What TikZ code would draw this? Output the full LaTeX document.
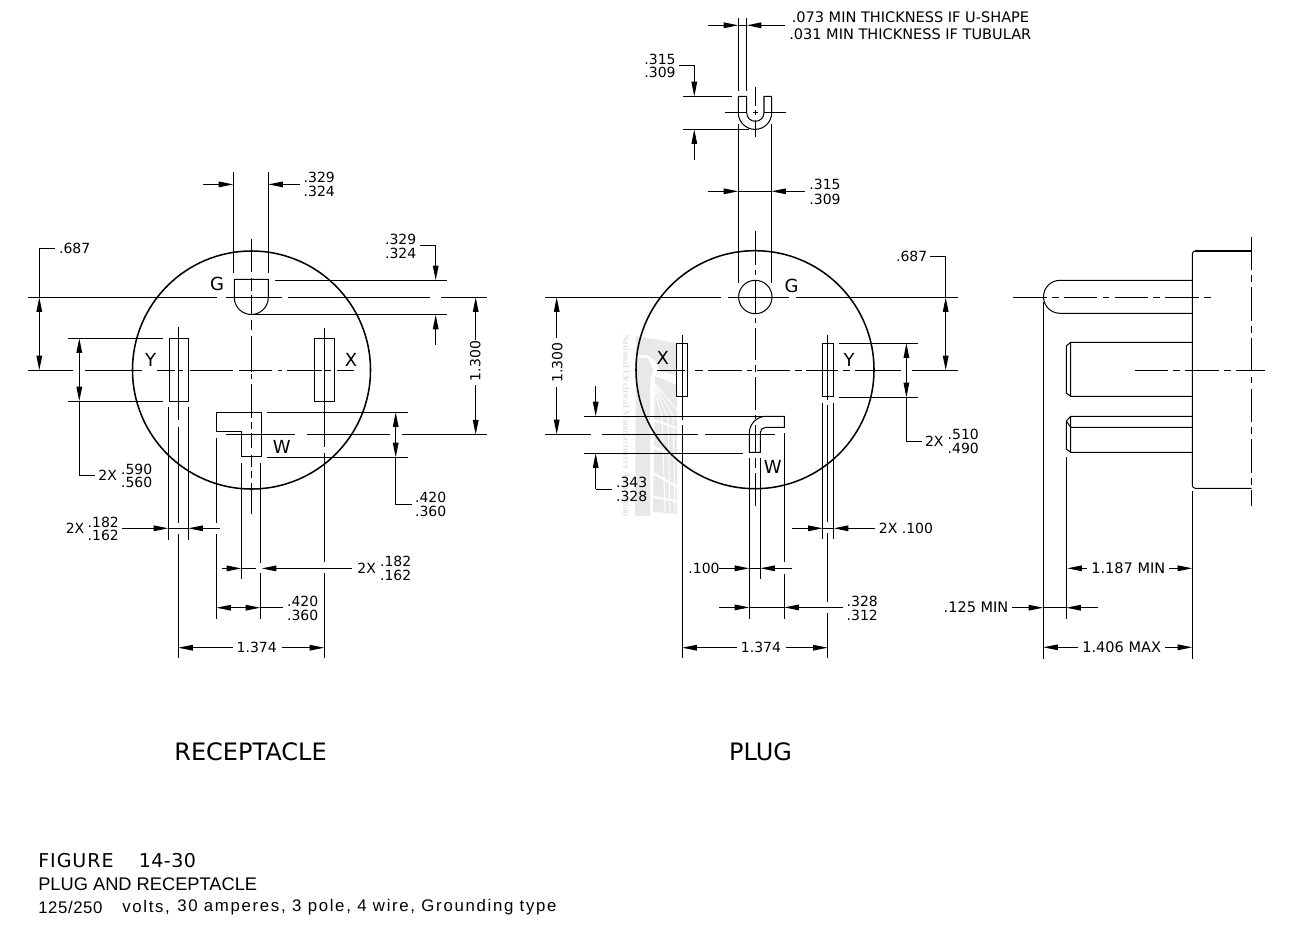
\documentclass[tikz,border=0pt]{standalone}
\usepackage{fontspec}
\setmainfont{DejaVu Sans}
\newfontfamily\wmfont{Liberation Serif}
\newfontfamily\arialfont{Liberation Sans}
\newfontfamily\figfont[LetterSpace=2.5]{DejaVu Sans}
\newfontfamily\figfontb[LetterSpace=5]{DejaVu Sans}
\newfontfamily\arialA[LetterSpace=3.5]{Liberation Sans}
\newfontfamily\arialB[LetterSpace=10]{Liberation Sans}
\newfontfamily\arialC[LetterSpace=10]{Liberation Sans}
\usetikzlibrary{arrows.meta}
\tikzset{
  ln/.style={line width=0.76pt,black,line cap=butt},
  hv/.style={line width=1.15pt,black},
  Tp/.tip={Triangle[length=11pt,width=4.2pt]},
  arr/.style={ln,-Tp},
  arrb/.style={ln,Tp-Tp},
  dimtxt/.style={font=\fontsize{10.5}{12}\selectfont,inner sep=0pt,anchor=center},
  dimcap/.style={font=\fontsize{10.9}{12}\selectfont,inner sep=0pt,anchor=center},
  lettxt/.style={font=\fontsize{13.5}{15}\selectfont,inner sep=0pt,anchor=center},
  bigtxt/.style={font=\fontsize{18}{20}\selectfont,inner sep=0pt,anchor=center},
  captxt/.style={font=\fontsize{13.7}{16}\selectfont,inner sep=0pt,anchor=west},
  capsmall/.style={font=\fontsize{12.6}{15}\selectfont,inner sep=0pt,anchor=west},
  dashdot/.style={ln,dash pattern=on 25pt off 4pt on 5pt off 4pt},
}
\definecolor{wm}{HTML}{E8E8E8}
\definecolor{wmt}{HTML}{E0E0E0}
\begin{document}
\begin{tikzpicture}[x=0.75pt,y=-0.75pt]
\useasboundingbox (0,0) rectangle (1290,925);
% --- watermark
\fill[wm] (636,336)--(677,343)--(677,376)--(660,371)--(655,361)--(648,355)--(636,355)--cycle;
\fill[wm] (636,358)--(648,358)--(653,370)--(650,380)--(650,516)--(635,516)--cycle;
\fill[wm] (655,376)--(677,385)--(677,514)--(653,512)--cycle;
\draw[white,line width=0.7pt] (652,384)--(662,416) (653,384)--(667,416) (654,384)--(672,414) (655,384)--(677,410) (662,416)--(665,512) (668,416)--(670,512) (673,414)--(675,512);
\draw[white,line width=1.4pt] (653,420)--(677,428) (653,447)--(677,456) (653,473)--(677,487) (653,497)--(677,501);
\node[rotate=-90,inner sep=0pt,text=wmt] (wmtext) at (626.5,425.5) {\wmfont\fontsize{6.9}{8}\selectfont\bfseries National Electrical Manufacturers Association};

% ===== RECEPTACLE =====
\draw[hv] (251.5,370) circle[radius=119];
\draw[ln] (234.3,279.4)--(268.3,279.4)--(268.3,297.5) arc[start angle=0,end angle=180,radius=17]--cycle;
\draw[ln] (169.3,338.3) rectangle (188.3,401.3);
\draw[ln] (314.3,338.3) rectangle (334.3,401.3);
\draw[ln] (216.3,412.3)--(261.3,412.3)--(261.3,456.3)--(241.3,456.3)--(241.3,431.3)--(216.3,431.3)--cycle;
% centre lines
\draw[ln] (251.3,239)--(251.3,272) (251.3,278)--(251.3,291) (251.3,295)--(251.3,315) (251.3,320)--(251.3,330) (251.3,336)--(251.3,371.5)
  (251.3,374)--(251.3,379) (251.3,384)--(251.3,418) (251.3,422)--(251.3,429) (251.3,433)--(251.3,448) (251.3,455)--(251.3,467) (251.3,471)--(251.3,478) (251.3,483)--(251.3,514);
\draw[ln] (28,297.3)--(217,297.3) (226,297.3)--(282,297.3) (288,297.3)--(430,297.3) (441,297.3)--(487,297.3);
\draw[ln] (28,370.3)--(73,370.3) (85,370.3)--(142,370.3) (157,370.3)--(175,370.3) (178,370.3)--(183,370.3) (190,370.3)--(233,370.3) (239,370.3)--(272,370.3) (278,370.3)--(282,370.3) (287,370.3)--(322,370.3) (325,370.3)--(331,370.3) (337,370.3)--(354,370.3);
\draw[ln] (226,434.5)--(295,434.5) (307,434.5)--(390,434.5) (402,434.5)--(487,434.5);
\draw[ln] (178.3,327)--(178.3,420) (178.3,427)--(178.3,522.7) (178.3,534)--(178.3,658);
\draw[ln] (324.3,328)--(324.3,446.7) (324.3,453)--(324.3,561.7) (324.3,573)--(324.3,658);
% extension lines
\draw[ln] (233.3,172)--(233.3,273) (268.3,172)--(268.3,273);
\draw[ln] (275,280.3)--(447,280.3) (253,314.7)--(447,314.7);
\draw[ln] (67.7,338.3)--(163.3,338.3) (67.7,401.3)--(163.3,401.3);
\draw[ln] (267,412.3)--(408,412.3) (267,457.4)--(408,457.4);
\draw[ln] (168.3,407)--(168.3,540) (188.3,407)--(188.3,540);
\draw[ln] (216.3,438)--(216.3,522.7) (216.3,534)--(216.3,619);
\draw[ln] (241.3,463)--(241.3,579);
\draw[ln] (260.3,463)--(260.3,563) (260.3,573)--(260.3,619);
% dimensions
\draw[arr] (203,184.4)--(233.3,184.4);
\draw[arr] (300,184.4)--(268.3,184.4);
\node[dimtxt] (r329a) at (319.3,177.7) {.329};
\node[dimtxt] (r329b) at (319.3,191.7) {.324};
\draw[ln] (55,248.7)--(39.3,248.7)--(39.3,297.3);
\draw[arrb] (39.3,297.3)--(39.3,370.3);
\node[dimtxt] (r687) at (74.7,248.7) {.687};
\draw[arr] (420,245.3)--(435.7,245.3)--(435.7,280.3);
\draw[arr] (435.7,345.3)--(435.7,314.7);
\node[dimtxt] (r329c) at (400.7,239.3) {.329};
\node[dimtxt] (r329d) at (400.7,253) {.324};
\draw[arr] (475.7,340)--(475.7,297.3);
\draw[arr] (475.7,385)--(475.7,434.5);
\node[dimtxt,rotate=90] (r1300) at (475.3,361) {1.300};
\draw[arrb] (79.3,338.3)--(79.3,401.3);
\draw[ln] (79.3,401)--(79.3,475.7)--(95,475.7);
\node[dimtxt] (r2xa) at (107.7,475.7) {2X};
\node[dimtxt] (r590) at (136.7,469) {.590};
\node[dimtxt] (r560) at (136.7,482.3) {.560};
\draw[arrb] (395.7,412.3)--(395.7,457.4);
\draw[ln] (395.7,457)--(395.7,504.4)--(412,504.4);
\node[dimtxt] (r420a) at (430.7,497.5) {.420};
\node[dimtxt] (r360a) at (430.7,511.2) {.360};
\draw[arr] (122,528.3)--(168.3,528.3);
\draw[ln] (168.3,528.3)--(188.3,528.3);
\draw[arr] (220,528.3)--(188.3,528.3);
\node[dimtxt] (r2xb) at (75,528.3) {2X};
\node[dimtxt] (r182a) at (103.3,522.3) {.182};
\node[dimtxt] (r162a) at (103.3,535.7) {.162};
\draw[arr] (222,568.4)--(241.3,568.4);
\draw[ln] (241.3,568.4)--(256,568.4);
\draw[arr] (351.7,568.4)--(261.7,568.4);
\node[dimtxt] (r2xc) at (366.7,568) {2X};
\node[dimtxt] (r182b) at (395.7,561.7) {.182};
\node[dimtxt] (r162b) at (395.7,575.3) {.162};
\draw[arrb] (216.3,607.7)--(260.3,607.7);
\draw[ln] (260.3,607.7)--(283,607.7);
\node[dimtxt] (r420b) at (302.7,601) {.420};
\node[dimtxt] (r360b) at (302.7,615) {.360};
\draw[arr] (232.7,647.7)--(178.3,647.7);
\draw[arr] (281.7,647.7)--(324.3,647.7);
\node[dimtxt] (r1374) at (256.7,647.7) {1.374};
\node[lettxt] (rG) at (217,284) {G};
\node[lettxt] (rY) at (150.7,360) {Y};
\node[lettxt] (rX) at (351,360) {X};
\node[lettxt] (rW) at (281.7,446.7) {W};

% ===== PLUG =====
\draw[hv] (755,369.7) circle[radius=119];
\draw[ln] (755.3,297) circle[radius=16.7];
\draw[ln] (676.7,343.3) rectangle (687.7,396.3);
\draw[ln] (822.7,343.3) rectangle (833.7,396.3);
\draw[ln] (784.3,416.3)--(766,416.3) .. controls (757,416.3) and (749.3,424) .. (749.3,433)--(749.3,452.3)--(760.3,452.3)--(760.3,432.5) .. controls (760.3,429.5) and (762.8,427.3) .. (765.8,427.3)--(784.3,427.3)--cycle;
% U shape
\draw[ln] (738.3,96.4)--(746.7,96.4)--(746.7,112.7) arc[start angle=180,end angle=0,radius=8.65]--(764,96.4)--(771.7,96.4)--(771.7,112.7) arc[start angle=0,end angle=180,radius=16.7]--cycle;
\draw[ln] (755.3,87.3)--(755.3,105.5) (755.3,110)--(755.3,115.3) (755.3,119.5)--(755.3,137.3);
\draw[ln] (725,112.7)--(746.7,112.7) (752.7,112.7)--(758,112.7) (764,112.7)--(786,112.7);
% centre lines
\draw[ln] (755.3,231)--(755.3,265) (755.3,270)--(755.3,275) (755.3,280)--(755.3,313) (755.3,318)--(755.3,323) (755.3,328)--(755.3,360) (755.3,365)--(755.3,372) (755.3,377)--(755.3,410) (755.3,415)--(755.3,419) (755.3,425)--(755.3,452) (755.3,458)--(755.3,468) (755.3,473)--(755.3,506);
\draw[ln] (545,297.3)--(721,297.3) (728,297.3)--(789,297.3) (795.7,297.3)--(957.7,297.3);
\draw[ln] (657,370.3)--(685,370.3) (695,370.3)--(703,370.3) (708,370.3)--(742,370.3) (747,370.3)--(752,370.3) (757,370.3)--(790,370.3) (795,370.3)--(802,370.3) (806,370.3)--(838,370.3) (843,370.3)--(850,370.3) (855,370.3)--(900.7,370.3) (911.7,370.3)--(957.7,370.3);
\draw[ln] (545,434.3)--(590.7,434.3) (601.7,434.3)--(698.3,434.3) (705,434.3)--(775,434.3);
\draw[ln] (682.7,335)--(682.7,420) (682.7,425)--(682.7,658);
\draw[ln] (827.7,335)--(827.7,400) (827.7,405)--(827.7,521.7) (827.7,532.7)--(827.7,601.7) (827.7,613.3)--(827.7,658);
% extension lines
\draw[ln] (738.3,18.3)--(738.3,90.7) (746.7,18.3)--(746.7,90.7);
\draw[ln] (738.3,124.3)--(738.3,282.7) (771.3,124.3)--(771.3,282.7);
\draw[ln] (683.3,96.4)--(731.7,96.4) (683.3,129.3)--(749.3,129.3);
\draw[ln] (584.3,416.3)--(765,416.3) (584.3,453.3)--(743.3,453.3);
\draw[ln] (839,343.3)--(917.7,343.3) (839,397.4)--(917.7,397.4);
\draw[ln] (822.7,402.7)--(822.7,539.3) (833.7,402.7)--(833.7,539.3);
\draw[ln] (749.3,458.3)--(749.3,619) (760.3,458.3)--(760.3,579.3);
\draw[ln] (784.3,433)--(784.3,561.7) (784.3,574)--(784.3,619);
% dimensions
\draw[arr] (707.7,25.3)--(738.3,25.3);
\draw[ln] (738.3,25.3)--(746.7,25.3);
\draw[arr] (785,25.3)--(746.7,25.3);
\node[dimcap,anchor=west] (p073) at (791.5,17.3) {.073 MIN THICKNESS IF U-SHAPE};
\node[dimcap,anchor=west] (p031) at (789,34) {.031 MIN THICKNESS IF TUBULAR};
\draw[arr] (679.3,65.3)--(694.3,65.3)--(694.3,96.4);
\draw[arr] (694.3,160)--(694.3,129.3);
\node[dimtxt] (p315a) at (660,59.3) {.315};
\node[dimtxt] (p309a) at (660,72.3) {.309};
\draw[arr] (707.7,191.3)--(738.3,191.3);
\draw[ln] (738.3,191.3)--(771.3,191.3);
\draw[arr] (805,191.3)--(771.3,191.3);
\node[dimtxt] (p315b) at (825,184.3) {.315};
\node[dimtxt] (p309b) at (825,199) {.309};
\draw[arr] (556.7,338)--(556.7,297.3);
\draw[arr] (556.7,387)--(556.7,434.3);
\node[dimtxt,rotate=90] (p1300) at (557.3,362.7) {1.300};
\draw[arr] (595.7,385.7)--(595.7,416.3);
\draw[arr] (595.7,489.3)--(595.7,453.3);
\draw[ln] (595.7,489.3)--(611.7,489.3);
\node[dimtxt] (p343) at (631.7,482.3) {.343};
\node[dimtxt] (p328a) at (631.7,496) {.328};
\draw[ln] (930,256.4)--(945.7,256.4)--(945.7,297.3);
\draw[arrb] (945.7,297.3)--(945.7,370.3);
\node[dimtxt] (p687) at (911.7,256) {.687};
\draw[arrb] (906.4,343.3)--(906.4,397.4);
\draw[ln] (906.4,397)--(906.4,441.4)--(921.7,441.4);
\node[dimtxt] (p2xa) at (934.3,441) {2X};
\node[dimtxt] (p510) at (963.3,434) {.510};
\node[dimtxt] (p490) at (963.3,448) {.490};
\draw[arr] (792,528.3)--(822.7,528.3);
\draw[ln] (822.7,528.3)--(833.7,528.3);
\draw[arr] (875,528.3)--(833.7,528.3);
\node[dimtxt] (p2xb) at (906,528.3) {2X .100};
\draw[arr] (719.3,568.3)--(749.3,568.3);
\draw[ln] (749.3,568.3)--(760.3,568.3);
\draw[arr] (791.7,568.3)--(760.3,568.3);
\node[dimtxt] (p100) at (704,568) {.100};
\draw[arr] (719,607.4)--(749.3,607.4);
\draw[ln] (749.3,607.4)--(784.3,607.4);
\draw[arr] (843.3,607.4)--(784.3,607.4);
\node[dimtxt] (p328b) at (862.3,601) {.328};
\node[dimtxt] (p312) at (862.3,615) {.312};
\draw[arr] (736.7,647.7)--(682.3,647.7);
\draw[arr] (785.7,647.7)--(827.7,647.7);
\node[dimtxt] (p1374) at (761,647.7) {1.374};
\node[lettxt] (pG) at (791.7,286) {G};
\node[lettxt] (pX) at (662.7,358.3) {X};
\node[lettxt] (pY) at (849,360) {Y};
\node[lettxt] (pW) at (772.7,466.7) {W};

% ===== SIDE VIEW =====
\draw[ln] (1251.7,488.3)--(1195.3,488.3) arc[start angle=90,end angle=180,radius=3]--(1192.3,254) arc[start angle=180,end angle=270,radius=3];
\draw[line width=1.4pt] (1195.3,251)--(1251.7,251);
\draw[dashdot] (1251.7,236.7)--(1251.7,505.7);
\draw[ln] (1192.3,280.3)--(1060,280.3) arc[start angle=270,end angle=90,radius=16.5]--(1192.3,313.3);
\draw[dashdot] (1013.3,297.3)--(1211.7,297.3);
\draw[ln] (1192.3,342.3)--(1070.7,342.3)--(1066.3,346)--(1066.3,393)--(1070.7,396.3)--(1192.3,396.3) (1070.7,342.3)--(1070.7,396.3);
\draw[dashdot] (1134.7,370.3)--(1265,370.3);
\draw[ln] (1192.3,416.3)--(1070.7,416.3)--(1066.3,421)--(1066.3,449)--(1070.7,452.3)--(1192.3,452.3) (1070.7,416.3)--(1070.7,452.3) (1070.7,427.3)--(1192.3,427.3) (1066.3,421)--(1070.7,427.3);
\draw[ln] (1043.3,301.7)--(1043.3,659) (1066.3,456.7)--(1066.3,619) (1192.3,491)--(1192.3,659);
\draw[arr] (1086.7,568.3)--(1067.3,568.3);
\draw[arr] (1169.3,568.3)--(1192.3,568.3);
\node[dimcap] (s1187) at (1128.3,568) {1.187 MIN};
\draw[arr] (1012.3,607.7)--(1043.3,607.7);
\draw[ln] (1043.3,607.7)--(1066.3,607.7);
\draw[arr] (1097.7,607.7)--(1066.3,607.7);
\node[dimcap] (s125) at (976,607) {.125 MIN};
\draw[arr] (1078.3,647.3)--(1043.3,647.3);
\draw[arr] (1165,647.3)--(1192.3,647.3);
\node[dimcap] (s1406) at (1121.7,647) {1.406 MAX};

% ===== TITLES =====
\node[bigtxt] (trec) at (250.5,752) {RECEPTACLE};
\node[bigtxt] (tplug) at (760.5,752) {PLUG};
\node[captxt,font=\fontsize{14.3}{16}\selectfont] (cap1a) at (38,861) {\figfontb FIGURE};
\node[captxt,font=\fontsize{14.3}{16}\selectfont] (cap1b) at (138.5,861) {\figfont 14-30};
\node[captxt] (cap2) at (38,884) {\arialfont PLUG AND RECEPTACLE};
\node[capsmall] (cap3a) at (38,907) {\arialA 125/250};
\node[capsmall] (cap3b) at (122,907) {\arialB volts,};
\node[capsmall] (cap3c) at (177,907) {\arialC 30 amperes, 3 pole, 4 wire, Grounding type};
\end{tikzpicture}
\end{document}
